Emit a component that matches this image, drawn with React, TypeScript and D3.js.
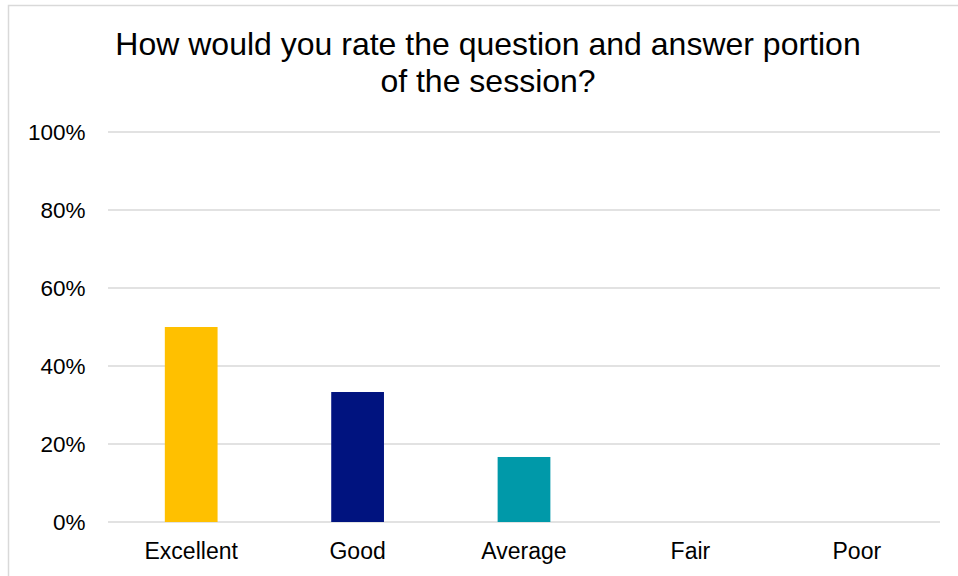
import React from "react";
import * as d3 from "d3";

const categories = ["Excellent", "Good", "Average", "Fair", "Poor"];
const values = [0.5, 0.3333, 0.1667, 0, 0];
const colors = ["#FFC000", "#00137F", "#0099A9", "#A5A5A5", "#5B9BD5"];
const yTicks = [0, 0.2, 0.4, 0.6, 0.8, 1.0];
const titleLines = ["How would you rate the question and answer portion", "of the session?"];

const W = 958;
const H = 576;
const left = 108;
const right = 940;
const top = 132;
const bottom = 522;

export default function App() {
  const x = d3.scaleBand<string>().domain(categories).range([left, right]).paddingInner(0.683).paddingOuter(0.3415);
  const y = d3.scaleLinear().domain([0, 1]).range([bottom, top]);
  const fmt = d3.format(".0%");
  const font = "'Liberation Sans', Arial, sans-serif";
  return (
    <svg width={W} height={H} style={{ position: "absolute", left: 0, top: 0 }} fontFamily={font}>
      <rect x={0} y={0} width={W} height={H} fill="#fff" />
      <rect x={8.5} y={5.5} width={W + 20} height={H + 20} fill="none" stroke="#d9d9d9" strokeWidth={1.5} />
      {titleLines.map((t, i) => (
        <text key={i} x={488} y={55 + i * 37} textAnchor="middle" fontSize={32} fill="#000">
          {t}
        </text>
      ))}
      {yTicks.map((t) => (
        <g key={t}>
          <line x1={left} x2={right} y1={y(t)} y2={y(t)} stroke="#d9d9d9" strokeWidth={1.5} />
          <text x={85.5} y={y(t) + 8} textAnchor="end" fontSize={22.5} fill="#000">
            {fmt(t)}
          </text>
        </g>
      ))}
      {categories.map((c, i) => (
        <rect key={c} x={x(c)} y={y(values[i])} width={x.bandwidth()} height={bottom - y(values[i])} fill={colors[i]} />
      ))}
      {categories.map((c) => (
        <text key={c} x={(x(c) as number) + x.bandwidth() / 2} y={559} textAnchor="middle" fontSize={23} fill="#000">
          {c}
        </text>
      ))}
    </svg>
  );
}
